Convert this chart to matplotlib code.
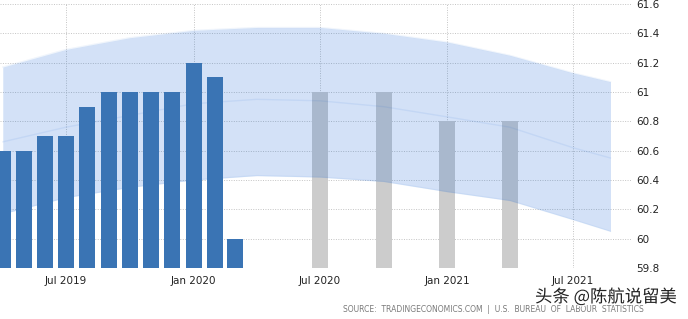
import datetime as dt
import matplotlib
matplotlib.use("Agg")
import matplotlib.pyplot as plt
import matplotlib.dates as mdates
import matplotlib.patheffects as pe

# actual monthly values
act_dates = ["2019-04-01", "2019-05-01", "2019-06-01", "2019-07-01", "2019-08-01", "2019-09-01",
             "2019-10-01", "2019-11-01", "2019-12-01", "2020-01-01", "2020-02-01", "2020-03-01"]
act_vals = [60.6, 60.6, 60.7, 60.7, 60.9, 61.0, 61.0, 61.0, 61.0, 61.2, 61.1, 60.0]

# forecast (quarterly)
fc_dates = ["2020-07-01", "2020-10-01", "2021-01-01", "2021-04-01"]
fc_vals = [61.0, 61.0, 60.8, 60.8]

# forecast band
band_dates = ["2019-04-01", "2019-07-01", "2019-10-01", "2020-01-01", "2020-04-01", "2020-07-01",
              "2020-10-01", "2021-01-01", "2021-04-01", "2021-07-01", "2021-08-24"]
band_hi = [61.17, 61.29, 61.37, 61.42, 61.44, 61.44, 61.40, 61.34, 61.25, 61.13, 61.07]
band_mid = [60.66, 60.76, 60.84, 60.92, 60.95, 60.94, 60.90, 60.83, 60.76, 60.62, 60.55]
band_lo = [60.17, 60.28, 60.35, 60.40, 60.43, 60.42, 60.39, 60.32, 60.26, 60.13, 60.05]

yticks = [59.8, 60, 60.2, 60.4, 60.6, 60.8, 61, 61.2, 61.4, 61.6]
ytick_labels = ["59.8", "60", "60.2", "60.4", "60.6", "60.8", "61", "61.2", "61.4", "61.6"]
xtick_dates = ["2019-07-01", "2020-01-01", "2020-07-01", "2021-01-01", "2021-07-01"]

def d(s):
    return dt.datetime.strptime(s, "%Y-%m-%d")

fig = plt.figure(figsize=(6.88, 3.19), dpi=100)
ax = fig.add_axes([0, 1 - 268 / 319, 632 / 688, (268 - 4) / 319])

band_col = (11 / 255, 94 / 255, 211 / 255)

ax.bar([d(s) for s in fc_dates], fc_vals, width=23, bottom=0, color="#cccccc", zorder=2)
bd = [d(s) for s in band_dates]
ax.fill_between(bd, band_lo, band_hi, color=band_col, alpha=0.18, lw=0, zorder=3)
ax.plot(bd, band_hi, color=band_col, alpha=0.06, lw=1, zorder=3)
ax.plot(bd, band_lo, color=band_col, alpha=0.06, lw=1, zorder=3)
ax.plot(bd, band_mid, color=band_col, alpha=0.08, lw=1, zorder=3)
ax.bar([d(s) for s in act_dates], act_vals, width=23, bottom=0, color="#3a74b4", zorder=4)

ax.set_ylim(59.8, 61.6)
ax.set_xlim(d("2019-03-28"), d("2021-09-24"))
ax.yaxis.tick_right()
ax.set_yticks(yticks)
ax.set_yticklabels(ytick_labels)
ax.set_xticks([d(s) for s in xtick_dates])
ax.xaxis.set_major_formatter(mdates.DateFormatter("%b %Y"))
ax.tick_params(axis="both", length=0, labelsize=7.5, colors="#222222")
ax.tick_params(axis="y", pad=3)
ax.tick_params(axis="x", pad=6)
for s in ax.spines.values():
    s.set_visible(False)
ax.grid(True, linestyle=(0, (1, 1.5)), color="#c4c4c4", lw=0.7, zorder=1)
ax.set_axisbelow(True)

fig.text(343 / 688, 1 - 310 / 319, "SOURCE:  TRADINGECONOMICS.COM  |  U.S.  BUREAU  OF  LABOUR  STATISTICS",
         fontsize=5.5, color="#7a7a7a", va="center", ha="left")
fig.text(535 / 688, 1 - 297 / 319, "头条 @陈航说留美", fontsize=12.5, color="#222222",
         va="center", ha="left", family=["Noto Sans CJK SC", "DejaVu Sans"],
         path_effects=[pe.withStroke(linewidth=2, foreground="white")])

fig.savefig("out.png", dpi=100)
